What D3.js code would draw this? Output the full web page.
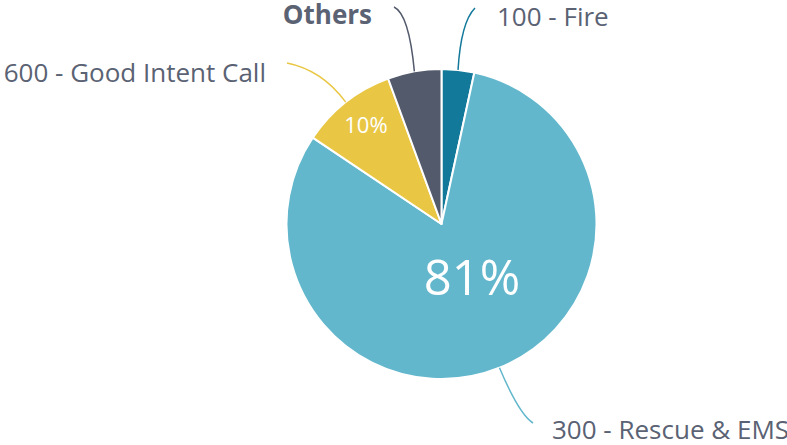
<!DOCTYPE html>
<html>
<head>
<meta charset="utf-8">
<script src="https://cdn.jsdelivr.net/npm/d3@7"></script>
<style>
  body { margin: 0; background: #fff; }
  svg { display: block; font-family: "Open Sans", sans-serif; }
</style>
</head>
<body>
<svg id="chart"></svg>
<script>
// slices, clockwise from 12 o'clock
const categories = ["100 - Fire", "300 - Rescue & EMS", "600 - Good Intent Call", "Others"];
const shares = [3.4, 81, 10, 5.6];
const colors = ["#13799a", "#62b7cc", "#e9c744", "#535a6c"];
const pctLabels = ["", "81%", "10%", ""];

const width = 787, height = 445;
const cx = 441.5, cy = 224, r = 155;

const svg = d3.select("#chart")
  .attr("width", width)
  .attr("height", height)
  .attr("viewBox", [0, 0, width, height]);

const pie = d3.pie().sort(null).value(d => d);
const arcs = pie(shares);
const arc = d3.arc().innerRadius(0).outerRadius(r);

const g = svg.append("g").attr("transform", `translate(${cx},${cy})`);

g.selectAll("path")
  .data(arcs)
  .enter().append("path")
    .attr("d", arc)
    .attr("fill", (d, i) => colors[i])
    .attr("stroke", "#fff")
    .attr("stroke-width", 2)
    .attr("stroke-linejoin", "round");

// percent labels inside
const inner = [d3.arc().innerRadius(0).outerRadius(0),
  d3.arc().innerRadius(0).outerRadius(r * 0.74),
  d3.arc().innerRadius(0).outerRadius(r * 1.62),
  d3.arc().innerRadius(0).outerRadius(0)];
const pctSize = [0, 49, 22, 0];
const pctShift = [0, 9, 2, 0];

g.selectAll("text.pct")
  .data(arcs)
  .enter().append("text")
    .attr("class", "pct")
    .attr("transform", (d, i) => `translate(${inner[i].centroid(d)})`)
    .attr("text-anchor", "middle")
    .attr("dx", (d, i) => pctShift[i])
    .attr("dy", "0.36em")
    .attr("fill", "#fff")
    .style("font-size", (d, i) => pctSize[i] + "px")
    .text((d, i) => pctLabels[i]);

// leader lines: start at slice edge, bend towards the label end
const ends = [[475, 8], [533, 423], [287, 63], [394, 7]];
const ctrl = [[461, 22], [519, 414], [322, 70], [409, 14]];
const anchors = ["start", "start", "end", "end"];
const labelPos = [[497, 26], [552, 439], [266, 82], [372, 24]];
const weights = [400, 400, 400, 700];

const edge = d3.arc().innerRadius(r).outerRadius(r);

svg.append("g")
  .selectAll("path")
  .data(arcs)
  .enter().append("path")
    .attr("fill", "none")
    .attr("stroke", (d, i) => colors[i])
    .attr("stroke-width", 1.5)
    .attr("d", (d, i) => {
      const [x0, y0] = edge.centroid(d);
      const p = d3.path();
      p.moveTo(cx + x0, cy + y0);
      p.quadraticCurveTo(ctrl[i][0], ctrl[i][1], ends[i][0], ends[i][1]);
      return p.toString();
    });

svg.append("g")
  .selectAll("text")
  .data(categories)
  .enter().append("text")
    .attr("x", (d, i) => labelPos[i][0])
    .attr("y", (d, i) => labelPos[i][1])
    .attr("text-anchor", (d, i) => anchors[i])
    .attr("fill", "#5a6273")
    .style("font-size", "26px")
    .style("font-weight", (d, i) => weights[i])
    .text(d => d);
</script>
</body>
</html>
